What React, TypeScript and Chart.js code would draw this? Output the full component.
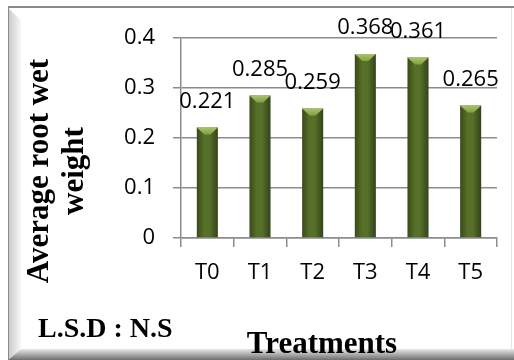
import React, { useEffect, useRef } from "react";
import { Chart, registerables } from "chart.js";

Chart.register(...registerables);

const categories = ["T0", "T1", "T2", "T3", "T4", "T5"];
const values = [0.221, 0.285, 0.259, 0.368, 0.361, 0.265];
const valueLabels = ["0.221", "0.285", "0.259", "0.368", "0.361", "0.265"];
const yTickLabels = ["0", "0.1", "0.2", "0.3", "0.4"];
const yTitleLines = ["Average root wet", "weight"];
const xTitle = "Treatments";
const noteText = "L.S.D : N.S";

const W = 514;
const H = 360;
const SANS = "'Open Sans', 'Liberation Sans', sans-serif";
const SERIF = "'Liberation Serif', 'DejaVu Serif', serif";
const GRID = "#8c8c8c";

const framePlugin = {
  id: "frame",
  beforeDraw(chart: any) {
    const ctx = chart.ctx as CanvasRenderingContext2D;
    ctx.save();
    ctx.fillStyle = "#ffffff";
    ctx.fillRect(0, 0, W, H);
    ctx.fillStyle = "#8a8a8a";
    ctx.fillRect(8, 6, W - 8, 2);
    ctx.fillStyle = "#e6e6e6";
    ctx.fillRect(511, 8, 1, H - 8);
    const lg = ctx.createLinearGradient(8, 0, 21, 0);
    lg.addColorStop(0, "#c8c8c8");
    lg.addColorStop(1, "#f8f8f8");
    ctx.fillStyle = lg;
    ctx.beginPath();
    ctx.moveTo(8, 8);
    ctx.lineTo(21, 20);
    ctx.lineTo(21, 349);
    ctx.lineTo(8, H);
    ctx.closePath();
    ctx.fill();
    ctx.fillStyle = "#8a8a8a";
    ctx.fillRect(8, 8, 1, H - 8);
    const bg = ctx.createLinearGradient(0, 349, 0, H);
    bg.addColorStop(0, "#e8e8e8");
    bg.addColorStop(1, "#6e6e6e");
    ctx.fillStyle = bg;
    ctx.beginPath();
    ctx.moveTo(21, 349);
    ctx.lineTo(W, 349);
    ctx.lineTo(W, H);
    ctx.lineTo(8, H);
    ctx.closePath();
    ctx.fill();
    ctx.restore();
  },
  afterDatasetsDraw(chart: any) {
    const ctx = chart.ctx as CanvasRenderingContext2D;
    const meta = chart.getDatasetMeta(0);
    ctx.save();
    meta.data.forEach((bar: any, i: number) => {
      const w = bar.width;
      const x0 = bar.x - w / 2;
      const x1 = bar.x + w / 2;
      const y = bar.y;
      const cg = ctx.createLinearGradient(0, y, 0, y + 8);
      cg.addColorStop(0, "#a9c46a");
      cg.addColorStop(1, "#7c9a3e");
      ctx.fillStyle = cg;
      ctx.beginPath();
      ctx.moveTo(x0, y);
      ctx.lineTo(x1, y);
      ctx.lineTo(bar.x + 3, y + 7);
      ctx.lineTo(bar.x - 3, y + 7);
      ctx.closePath();
      ctx.fill();
      ctx.fillStyle = "#000000";
      ctx.font = `22px ${SANS}`;
      ctx.textAlign = "center";
      ctx.textBaseline = "alphabetic";
      ctx.fillText(valueLabels[i], bar.x, y - 20);
    });
    ctx.restore();
  },
  afterDraw(chart: any) {
    const ctx = chart.ctx as CanvasRenderingContext2D;
    ctx.save();
    ctx.fillStyle = "#000000";
    ctx.font = `bold 31px ${SERIF}`;
    ctx.textAlign = "center";
    ctx.textBaseline = "alphabetic";
    const baselines = [48, 83];
    yTitleLines.forEach((line, i) => {
      ctx.save();
      ctx.translate(baselines[i], 171);
      ctx.rotate(-Math.PI / 2);
      ctx.fillText(line, 0, 0);
      ctx.restore();
    });
    ctx.fillText(xTitle, 322, 353);
    ctx.font = `bold 28px ${SERIF}`;
    ctx.textAlign = "left";
    ctx.fillText(noteText, 38, 337);
    ctx.restore();
  },
};

export default function App() {
  const ref = useRef<HTMLCanvasElement>(null);
  useEffect(() => {
    if (!ref.current) return;
    const chart = new Chart(ref.current, {
      type: "bar",
      data: {
        labels: categories,
        datasets: [
          {
            data: values,
            backgroundColor: (c: any) => {
              const ch = c.chart;
              const xs = ch.scales && ch.scales.x;
              if (!xs || !ch.chartArea || c.dataIndex === undefined) return "#4f6228";
              const cx = xs.getPixelForValue(c.dataIndex);
              const hw = 10.5;
              const g = ch.ctx.createLinearGradient(cx - hw, 0, cx + hw, 0);
              g.addColorStop(0, "#3a4a1a");
              g.addColorStop(0.35, "#577028");
              g.addColorStop(0.6, "#56702a");
              g.addColorStop(1, "#34431a");
              return g;
            },
            borderWidth: 0,
            categoryPercentage: 1,
            barPercentage: 0.4,
          },
        ],
      },
      options: {
        responsive: false,
        animation: false,
        devicePixelRatio: 1,
        layout: { padding: { left: 0, right: 17, top: 38, bottom: 0 } },
        plugins: {
          legend: { display: false },
          tooltip: { enabled: false },
          title: { display: false },
        },
        scales: {
          x: {
            offset: true,
            afterFit: (s: any) => {
              s.height = 122;
            },
            grid: {
              offset: true,
              drawOnChartArea: false,
              drawTicks: true,
              tickLength: 9,
              color: GRID,
              lineWidth: 1.5,
            },
            border: { display: true, color: GRID, width: 1.5 },
            ticks: {
              color: "#000000",
              font: { family: SANS, size: 22 },
              padding: 13,
              maxRotation: 0,
            },
          },
          y: {
            min: 0,
            max: 0.4,
            afterFit: (s: any) => {
              s.width = 181;
            },
            ticks: {
              stepSize: 0.1,
              color: "#000000",
              font: { family: SANS, size: 22 },
              padding: 18,
              callback: (_v: any, i: number) => yTickLabels[i],
            },
            grid: {
              color: GRID,
              lineWidth: 1.5,
              drawTicks: true,
              tickLength: 8,
            },
            border: { display: true, color: GRID, width: 1.5 },
          },
        },
      },
      plugins: [framePlugin],
    });
    return () => chart.destroy();
  }, []);
  return (
    <canvas
      ref={ref}
      width={W}
      height={H}
      style={{ position: "fixed", left: 0, top: 0, width: W, height: H, display: "block" }}
    />
  );
}
